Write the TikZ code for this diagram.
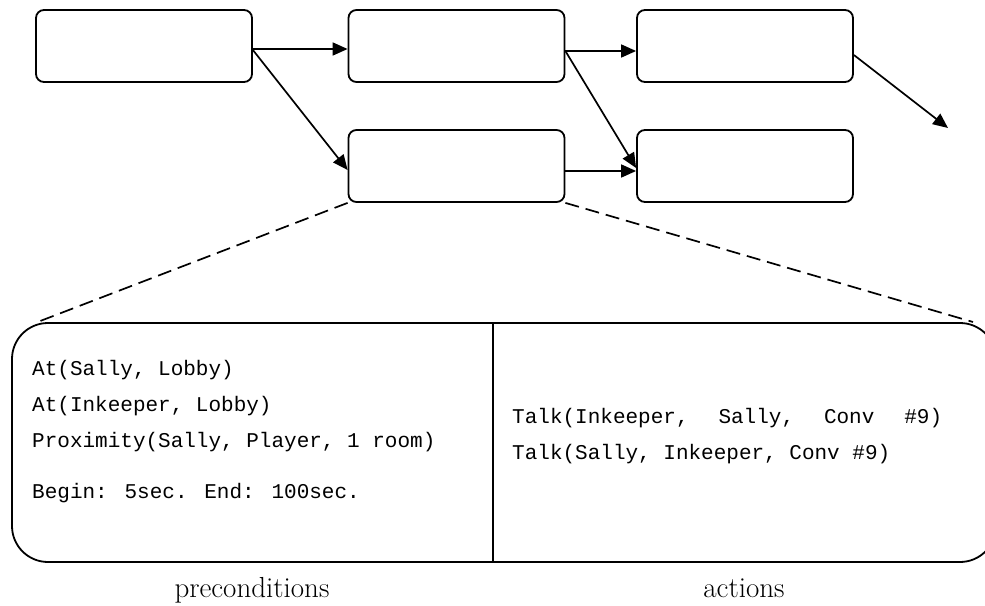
\documentclass[tikz,border=0pt]{standalone}
\usepackage{fontspec}
\newfontfamily\monofont{Liberation Mono}
\usetikzlibrary{arrows.meta}
\begin{document}
\begin{tikzpicture}[x=1pt,y=-1pt,
  box/.style={draw,line width=1.8pt,rounded corners=8pt,minimum width=216pt,minimum height=72pt,inner sep=0pt},
  conn/.style={line width=1.7pt,-{Triangle[length=15pt,width=13pt]}},
  zoomline/.style={line width=1.7pt,dash pattern=on 14pt off 7pt},
  code/.style={font=\monofont\fontsize{21}{24}\selectfont,anchor=base west,inner sep=0pt},
  lbl/.style={font=\fontsize{29}{32}\selectfont,anchor=base,inner sep=0pt}]
\useasboundingbox (0,0) rectangle (985,605);
\node[box] (A) at (144,46) {};
\node[box] (B) at (456.5,46) {};
\node[box] (C) at (745,46) {};
\node[box] (D) at (456.5,166) {};
\node[box] (E) at (745,166) {};
\coordinate (out) at (948,128);
\draw[conn] ([yshift=-3pt]A.east) -- ([yshift=-3pt]B.west);
\draw[conn] ([yshift=-4pt]A.east) -- ([yshift=-4pt]D.west);
\draw[conn] ([yshift=-5pt]B.east) -- ([yshift=-5pt]C.west);
\draw[conn] ([yshift=-5pt]B.east) -- ([yshift=-2pt]E.west);
\draw[conn] ([yshift=-5pt]D.east) -- ([yshift=-5pt]E.west);
\draw[conn] ([yshift=-9pt]C.east) -- (out);
% detail box
\node[draw,line width=1.8pt,rounded corners=36pt,minimum width=984pt,minimum height=239pt,inner sep=0pt] (detail) at (504,442.5) {};
\coordinate (divtop) at (493,323);
\coordinate (divbot) at (493,562);
\draw[line width=1.8pt] (divtop) -- (divbot);
\coordinate (zl) at (35,323);
\coordinate (zr) at (973,322);
\draw[zoomline] (D.south west) -- (zl);
\draw[zoomline] (D.south east) -- (zr);
% texts
\node[code] (p1) at (32,375) {At(Sally, Lobby)};
\node[code] (p2) at (32,411) {At(Inkeeper, Lobby)};
\node[code] (p3) at (32,447) {Proximity(Sally, Player, 1 room)};
\node[code] (p4) at (32,498) {Begin: 5sec. End: 100sec.};
\node[code] (a1) at (512,423) {\hbox to 430pt{Talk(Inkeeper,\hfill Sally,\hfill Conv\hfill \#9)}};
\node[code] (a2) at (512,459) {Talk(Sally, Inkeeper, Conv \#9)};
\node[lbl] (pre) at (252,597) {preconditions};
\node[lbl] (act) at (744,597) {actions};
\end{tikzpicture}
\end{document}
